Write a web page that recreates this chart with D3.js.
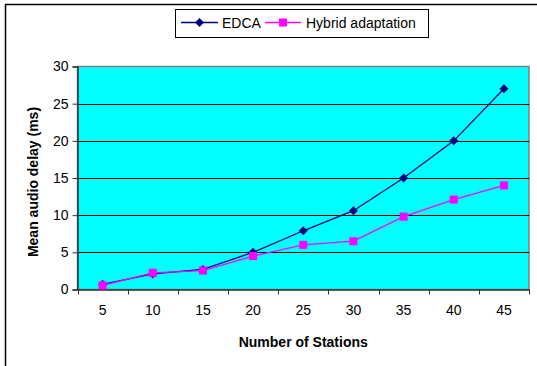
<!DOCTYPE html>
<html><head><meta charset="utf-8">
<script src="https://cdn.jsdelivr.net/npm/d3@7/dist/d3.min.js"></script>
<style>body{margin:0;background:#fff;overflow:hidden}svg{display:block;font-family:"Liberation Sans",Arial,sans-serif}</style>
</head><body><svg id="c" width="537" height="366"></svg>
<script>
const categories = ["5","10","15","20","25","30","35","40","45"];
const edca = [0.7, 2.1, 2.7, 5.0, 7.9, 10.6, 15.0, 20.0, 27.0];
const hybrid = [0.55, 2.25, 2.55, 4.5, 6.0, 6.5, 9.8, 12.1, 14.0];
const yTicks = [0, 5, 10, 15, 20, 25, 30];
const seriesNames = ["EDCA", "Hybrid adaptation"];
const seriesColors = ["#000080", "#FF00FF"];

const svg = d3.select("#c");
const L = 77.5, R = 529, T = 66.5, B = 289.5;

// outer frame
svg.append("rect").attr("x",5.5).attr("y",4.5).attr("width",600).attr("height",600)
  .attr("fill","#fff").attr("stroke","#000").attr("stroke-width",1.5);

const x = d3.scaleBand().domain(categories).range([L, R]);
const y = d3.scaleLinear().domain([0, 30]).range([B, T]);

// plot area
svg.append("rect").attr("x",L).attr("y",T).attr("width",R-L).attr("height",B-T)
  .attr("fill","#00FFFF").attr("stroke","#808080").attr("stroke-width",1.5);

// gridlines
svg.append("g").selectAll("line").data(yTicks.filter(d=>d>0 && d<30)).join("line")
  .attr("x1",L).attr("x2",R).attr("y1",d=>Math.round(y(d))+0.5).attr("y2",d=>Math.round(y(d))+0.5)
  .attr("stroke","#000").attr("stroke-width",1);

// y axis
const yAxis = svg.append("g").attr("transform",`translate(${L},0)`)
  .call(d3.axisLeft(y).tickValues(yTicks).tickSize(5).tickPadding(4).tickFormat(d3.format("d")));
yAxis.select(".domain").attr("stroke","#333").attr("stroke-width",1.5);
yAxis.selectAll(".tick line").attr("stroke","#333");
yAxis.selectAll("text").attr("font-size",14).attr("fill","#000").attr("font-family","Liberation Sans, Arial, sans-serif");

// x axis
const xAxis = svg.append("g").attr("transform",`translate(0,${B})`)
  .call(d3.axisBottom(x).tickSize(0).tickPadding(16));
xAxis.select(".domain").attr("stroke","#333").attr("stroke-width",1.5);
xAxis.selectAll("text").attr("font-size",14).attr("fill","#000").attr("font-family","Liberation Sans, Arial, sans-serif");
// category boundary ticks
const bounds = categories.map(c=>x(c)).concat([R]);
svg.append("g").selectAll("line").data(bounds).join("line")
  .attr("x1",d=>Math.round(d)+0.5).attr("x2",d=>Math.round(d)+0.5).attr("y1",B).attr("y2",B+5)
  .attr("stroke","#333").attr("stroke-width",1);

// series
const cx = c => x(c) + x.bandwidth()/2;
const line = d3.line().x((d,i)=>cx(categories[i])).y(d=>y(d));
const sets = [edca, hybrid];
sets.forEach((vals, si) => {
  svg.append("path").datum(vals).attr("d",line).attr("fill","none")
    .attr("stroke",seriesColors[si]).attr("stroke-width",1.3);
});
// markers
svg.append("g").selectAll("path").data(edca).join("path")
  .attr("transform",(d,i)=>`translate(${cx(categories[i])},${y(d)})`)
  .attr("d","M0,-4.5L4.5,0L0,4.5L-4.5,0Z").attr("fill",seriesColors[0]);
svg.append("g").selectAll("rect").data(hybrid).join("rect")
  .attr("x",(d,i)=>cx(categories[i])-4).attr("y",d=>y(d)-4).attr("width",8).attr("height",8)
  .attr("fill",seriesColors[1]);

// axis titles
svg.append("text").attr("x",(L+R)/2+0).attr("y",347).attr("text-anchor","middle")
  .attr("font-size",14).attr("font-weight","bold").text("Number of Stations");
svg.append("text").attr("transform",`translate(38,${(T+B)/2+4}) rotate(-90)`).attr("text-anchor","middle")
  .attr("font-size",14).attr("font-weight","bold").text("Mean audio delay (ms)");

// legend
const lg = svg.append("g");
lg.append("rect").attr("x",175.5).attr("y",9.5).attr("width",253).attr("height",28)
  .attr("fill","#fff").attr("stroke","#000").attr("stroke-width",1);
const lgItems = [{x0:181, x1:218, tx:222}, {x0:265, x1:301, tx:306}];
lgItems.forEach((it, i) => {
  lg.append("line").attr("x1",it.x0).attr("x2",it.x1).attr("y1",22.5).attr("y2",22.5)
    .attr("stroke",seriesColors[i]).attr("stroke-width",1.3);
  const mx = (it.x0+it.x1)/2;
  if (i===0) lg.append("path").attr("transform",`translate(${mx},22.5)`).attr("d","M0,-4.5L4.5,0L0,4.5L-4.5,0Z").attr("fill",seriesColors[0]);
  else lg.append("rect").attr("x",mx-4).attr("y",18.5).attr("width",8).attr("height",8).attr("fill",seriesColors[1]);
  lg.append("text").attr("x",it.tx).attr("y",27.5).attr("font-size",14).text(seriesNames[i]);
});
</script></body></html>
